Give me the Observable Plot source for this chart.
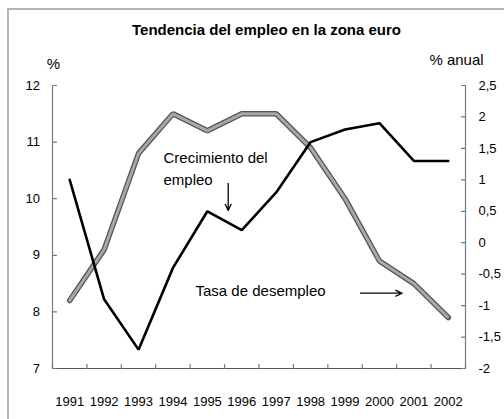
<!DOCTYPE html>
<html><head><meta charset="utf-8">
<script src="https://cdn.jsdelivr.net/npm/d3@7"></script>
<script src="https://cdn.jsdelivr.net/npm/@observablehq/plot@0.6"></script>
<style>
body{margin:0;background:#fff;overflow:hidden}
#wrap{position:relative;width:504px;height:419px;overflow:hidden;font-family:"Liberation Sans",Arial,sans-serif}
#frame{position:absolute;left:7px;top:8px;width:700px;height:700px;border-left:2px solid #b4b4b4;border-top:2px solid #b4b4b4}
#chart{position:absolute;left:0;top:0}
</style></head><body>
<div id="wrap"><div id="frame"></div><div id="chart"></div></div>
<script>
const titulo = "Tendencia del empleo en la zona euro";
const years = [1991,1992,1993,1994,1995,1996,1997,1998,1999,2000,2001,2002];
const desempleo = [8.2, 9.1, 10.8, 11.5, 11.2, 11.5, 11.5, 10.9, 10.0, 8.9, 8.5, 7.9];
const crecimiento = [1.0, -0.9, -1.7, -0.4, 0.5, 0.2, 0.8, 1.6, 1.8, 1.9, 1.3, 1.3];
const leftTicks = [7, 8, 9, 10, 11, 12];
const rightTicks = [-2, -1.5, -1, -0.5, 0, 0.5, 1, 1.5, 2, 2.5];
const leftLabel = "%";
const rightLabel = "% anual";
// annotations in data units (x = year index, y = left-axis %)
const notes = [
  {text: "Crecimiento del\nempleo", x: 3.225, y: 10.905, anchor: "top"},
  {text: "Tasa de desempleo", x: 4.155, y: 8.36, anchor: "middle"}
];
const arrows = [
  {x1: 5.105, y1: 10.27, x2: 5.105, y2: 9.79},
  {x1: 8.95, y1: 8.33, x2: 10.16, y2: 8.33}
];

// second (right) axis mapped onto the left scale
const L0 = 7, L1 = 12, R0 = -2, R1 = 2.5;
const toLeft = g => L0 + (g - R0) * (L1 - L0) / (R1 - R0);
const fromLeft = v => R0 + (v - L0) * (R1 - R0) / (L1 - L0);
const fmt = v => String(Math.round(v * 10) / 10).replace(".", ",");

const unemp = years.map((yr, i) => ({x: i + 0.5, y: desempleo[i]}));
const growth = years.map((yr, i) => ({x: i + 0.5, y: toLeft(crecimiento[i])}));
const bounds = d3.range(years.length + 1);
const centers = years.map((yr, i) => i + 0.5);
const axisColor = "#7a7a7a";
const stick = {draw(context, l) { context.moveTo(0, 0); context.lineTo(0, -l); }};
const tickStyle = {length: 4, anchor: "start", shape: stick, stroke: axisColor, strokeWidth: 1.2};

const chart = Plot.plot({
  width: 504, height: 419,
  marginLeft: 52, marginRight: 39, marginTop: 85, marginBottom: 51,
  style: {fontFamily: "'Liberation Sans', Arial, sans-serif", fontSize: "13px", color: "black", background: "transparent"},
  x: {type: "linear", domain: [0, years.length], axis: null},
  y: {domain: [L0, L1], axis: null},
  marks: [
    Plot.ruleX([0, years.length], {stroke: axisColor, strokeWidth: 1.2}),
    Plot.ruleY([L0], {stroke: "#555", strokeWidth: 1.2}),
    // inward tick marks
    Plot.vector(leftTicks, {x: 0, y: d => d, rotate: 90, ...tickStyle}),
    Plot.vector(rightTicks.map(toLeft), {x: years.length, y: d => d, rotate: -90, ...tickStyle}),
    Plot.vector(bounds, {x: d => d, y: L0, rotate: 0, ...tickStyle}),
    // tick labels
    Plot.axisY(leftTicks, {anchor: "left", tickSize: 0, tickPadding: 12.5, fontSize: 13, label: null, tickFormat: d => String(d)}),
    Plot.axisY(rightTicks.map(toLeft), {anchor: "right", tickSize: 0, tickPadding: 13, fontSize: 13, label: null, tickFormat: d => fmt(fromLeft(d))}),
    Plot.axisX(centers, {anchor: "bottom", tickSize: 0, tickPadding: 28, fontSize: 13, label: null, tickFormat: d => String(years[Math.floor(d)])}),
    // unemployment (hatched grey)
    Plot.line(unemp, {x: "x", y: "y", stroke: "#555", strokeWidth: 5.5, strokeLinejoin: "miter"}),
    Plot.line(unemp, {x: "x", y: "y", stroke: "#a8a8a8", strokeWidth: 3, strokeDasharray: "1,1", strokeLinejoin: "miter"}),
    // employment growth
    Plot.line(growth, {x: "x", y: "y", stroke: "black", strokeWidth: 2.6, strokeLinejoin: "miter"}),
    // annotations
    Plot.text(notes.filter(d => d.anchor === "top"), {x: "x", y: "y", text: "text", textAnchor: "start", lineAnchor: "top", lineHeight: 1.47, fontSize: 15}),
    Plot.text(notes.filter(d => d.anchor === "middle"), {x: "x", y: "y", text: "text", textAnchor: "start", lineAnchor: "middle", fontSize: 15}),
    Plot.arrow(arrows, {x1: "x1", y1: "y1", x2: "x2", y2: "y2", stroke: "black", strokeWidth: 1.3, headLength: 8, headAngle: 50}),
    // title and axis titles
    Plot.text([titulo], {frameAnchor: "top", dy: -55, dx: 7.5, fontSize: 15, fontWeight: "bold", lineAnchor: "middle"}),
    Plot.text([leftLabel], {frameAnchor: "top-left", dy: -21.5, dx: 1, fontSize: 15, textAnchor: "middle", lineAnchor: "middle"}),
    Plot.text([rightLabel], {frameAnchor: "top-right", dy: -25, dx: -9, fontSize: 15, textAnchor: "middle", lineAnchor: "middle"})
  ]
});
document.getElementById("chart").appendChild(chart);
</script>
</body></html>
